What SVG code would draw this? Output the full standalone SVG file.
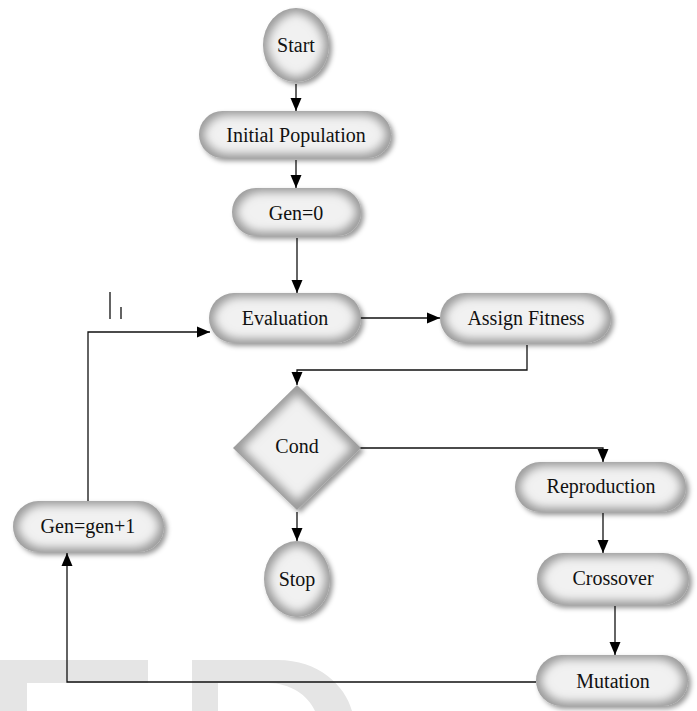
<svg xmlns="http://www.w3.org/2000/svg" width="697" height="711" viewBox="0 0 697 711">
<defs>
<style>
.body{fill:#9c9c9c;filter:url(#bevel);}
.lbl{font-family:"Liberation Serif","Times New Roman",serif;font-size:20px;fill:#111;text-anchor:middle;}
.con{fill:none;stroke:#111;stroke-width:1.3;}
.arr{marker-end:url(#ah);}
.wm{fill:#e5e5e5;}
</style>
<marker id="ah" markerUnits="userSpaceOnUse" markerWidth="13" markerHeight="12" viewBox="0 0 13 12" refX="13" refY="6" orient="auto">
<path d="M0,0.5 L13,6 L0,11.5 Z" fill="#000"/>
</marker>
<filter id="bevel" x="-20%" y="-20%" width="150%" height="150%">
<feGaussianBlur in="SourceAlpha" stdDeviation="2.5" result="sb"/>
<feOffset in="sb" dx="3" dy="3" result="so"/>
<feFlood flood-color="#000" flood-opacity="0.4"/>
<feComposite in2="so" operator="in" result="shadow"/>
<feMorphology in="SourceAlpha" operator="erode" radius="5" result="er"/>
<feGaussianBlur in="er" stdDeviation="4" result="eb"/>
<feFlood flood-color="#f1f1f1"/>
<feComposite in2="eb" operator="in" result="light"/>
<feComposite in="light" in2="SourceAlpha" operator="in" result="lightc"/>
<feMerge><feMergeNode in="shadow"/><feMergeNode in="SourceGraphic"/><feMergeNode in="lightc"/></feMerge>
</filter>
</defs>
<rect width="697" height="711" fill="#fff"/>
<g id="watermark">
<path class="wm" d="M0,660 H148 V683 H27 V711 H0 Z"/>
<path class="wm" fill-rule="evenodd" d="M192,660 H278 C318,660 345,685 352,711 H192 Z M218,683 H268 C290,683 308,695 315,711 H218 Z"/>
</g>
<g id="connectors">
<path class="con arr" d="M296,84 V111"/>
<path class="con arr" d="M296,160 V188"/>
<path class="con arr" d="M297,238 V293"/>
<path class="con arr" d="M352,318 H440"/>
<path class="con arr" d="M527,345 V370 H297 V385"/>
<path class="con arr" d="M352,448 H603 V462"/>
<path class="con arr" d="M297,512 V541"/>
<path class="con arr" d="M603,513 V553"/>
<path class="con arr" d="M615,606 V655"/>
<path class="con arr" d="M536,682 H67 V553"/>
<path class="con arr" d="M88,501 V332 H210"/>
<path class="con" d="M110,292 V319 M121,307 V319"/>
</g>
<g id="n-start"><ellipse class="body" cx="296" cy="45" rx="33" ry="37"/><text class="lbl" x="296" y="52">Start</text></g>
<g id="n-initial"><rect class="body" x="199" y="111" width="192" height="47" rx="23.5"/><text class="lbl" x="296" y="142">Initial Population</text></g>
<g id="n-gen0"><rect class="body" x="232" y="188" width="129" height="48" rx="24"/><text class="lbl" x="296" y="220">Gen=0</text></g>
<g id="n-eval"><rect class="body" x="209" y="293" width="152" height="50" rx="25"/><text class="lbl" x="285" y="325">Evaluation</text></g>
<g id="n-assign"><rect class="body" x="440" y="293" width="171" height="50" rx="25"/><text class="lbl" x="526" y="325">Assign Fitness</text></g>
<g id="n-cond"><polygon class="body" points="297,385 361,448 297,510 233,448"/><text class="lbl" x="297" y="453">Cond</text></g>
<g id="n-repro"><rect class="body" x="515" y="462" width="171" height="50" rx="25"/><text class="lbl" x="601" y="493">Reproduction</text></g>
<g id="n-genplus"><rect class="body" x="13" y="501" width="151" height="51" rx="25.5"/><text class="lbl" x="88" y="533">Gen=gen+1</text></g>
<g id="n-stop"><ellipse class="body" cx="297" cy="579" rx="33" ry="38"/><text class="lbl" x="297" y="586">Stop</text></g>
<g id="n-cross"><rect class="body" x="537" y="553" width="152" height="52" rx="26"/><text class="lbl" x="613" y="585">Crossover</text></g>
<g id="n-mut"><rect class="body" x="536" y="655" width="152" height="51" rx="25.5"/><text class="lbl" x="613" y="688">Mutation</text></g>
</svg>
